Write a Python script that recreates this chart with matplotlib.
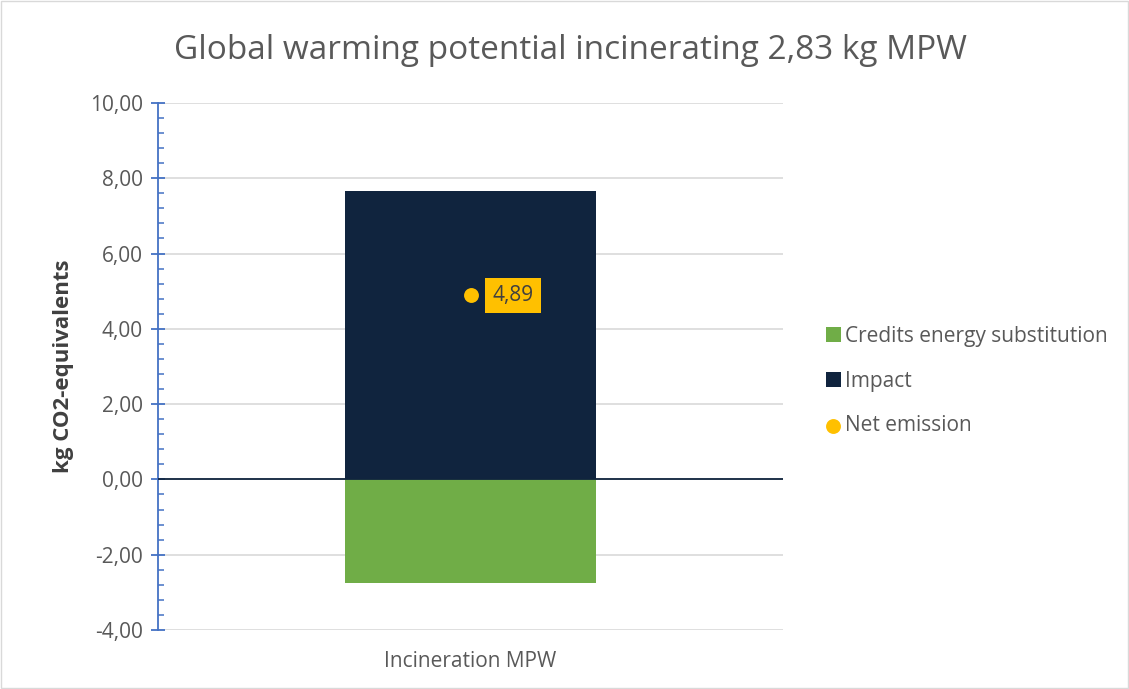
import numpy as np
import matplotlib.pyplot as plt
from matplotlib.ticker import FuncFormatter, MultipleLocator

plt.rcParams["font.family"] = ["Open Sans", "DejaVu Sans"]

# data
categories = ["Incineration MPW"]
credits = [-2.76]
impact = [7.65]
net = [4.89]

GREEN = "#70AD47"
NAVY = "#10243E"
GOLD = "#FFC000"
TXT = "#595959"

fig = plt.figure(figsize=(11.29, 6.89), dpi=100)
fig.patches.append(plt.Rectangle((0.001, 0.001), 0.998, 0.998, transform=fig.transFigure,
                                 fill=False, edgecolor="#D9D9D9", linewidth=1))
ax = fig.add_axes([0.140, 0.0856, 0.5535, 0.765])

x = np.arange(len(categories))
b1 = ax.bar(x, credits, width=0.402, color=GREEN, label="Credits energy substitution", zorder=2)
b2 = ax.bar(x, impact, width=0.402, color=NAVY, label="Impact", zorder=2)
pts = ax.scatter(x, net, s=115, color=GOLD, label="Net emission", zorder=4, linewidths=0)

for xi, v in zip(x, net):
    ax.annotate(f"{v:.2f}".replace(".", ","), xy=(xi, v), xytext=(16, 0),
                textcoords="offset points", ha="left", va="center",
                fontsize=15, color="#404040", zorder=5,
                bbox=dict(boxstyle="square,pad=0.35", fc=GOLD, ec="none"))

ax.axhline(0, color=NAVY, linewidth=1.3, zorder=3)

ax.set_xlim(-0.5, 0.5)
ax.set_ylim(-4, 10)
ax.yaxis.set_major_locator(MultipleLocator(2))
ax.yaxis.set_minor_locator(MultipleLocator(0.4))
ax.yaxis.set_major_formatter(FuncFormatter(lambda v, p: f"{v:.2f}".replace(".", ",")))
ax.grid(axis="y", color="#D9D9D9", linewidth=1.2, zorder=0)
ax.set_axisbelow(True)

for s in ["top", "right", "bottom"]:
    ax.spines[s].set_visible(False)
ax.spines["left"].set_color("#4472C4")
ax.spines["left"].set_linewidth(1.3)

ax.tick_params(axis="y", which="major", direction="inout", length=10, width=1.3,
               color="#4472C4", labelsize=15, labelcolor=TXT, pad=6)
ax.tick_params(axis="y", which="minor", direction="in", length=4, width=1.1, color="#4472C4")
ax.set_xticks(x)
ax.set_xticklabels(categories)
ax.tick_params(axis="x", length=0, labelsize=15, labelcolor=TXT, pad=15)

ax.set_ylabel("kg CO2-equivalents", fontsize=16, fontweight="bold", color="#404040")
ax.yaxis.set_label_coords(-0.135, 0.50)
fig.suptitle("Global warming potential incinerating 2,83 kg MPW", fontsize=24,
             color=TXT, x=0.505, y=0.927, va="center")

leg = fig.legend(handles=[b1, b2, pts], loc="center left", bbox_to_anchor=(0.715, 0.447),
                 frameon=False, fontsize=15, labelcolor=TXT, handlelength=0.7,
                 handleheight=0.7, handletextpad=0.2, labelspacing=1.15, markerscale=1.0)

fig.savefig("out.png", dpi=100)
